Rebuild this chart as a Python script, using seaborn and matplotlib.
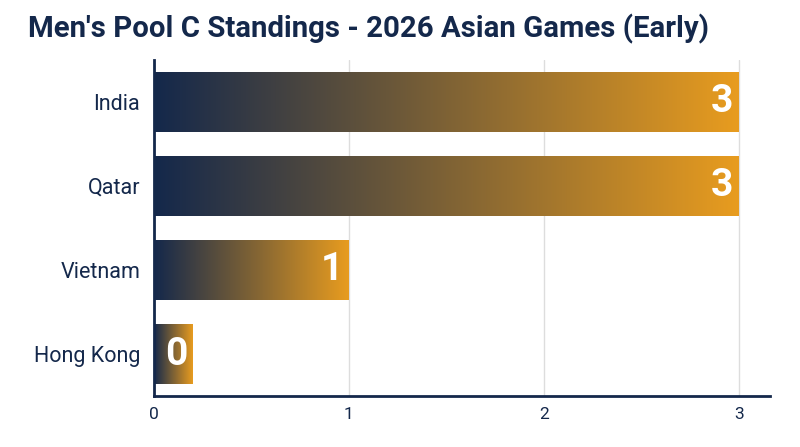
import matplotlib
matplotlib.use("Agg")
import matplotlib.pyplot as plt
from matplotlib.colors import LinearSegmentedColormap
import seaborn as sns
import numpy as np
import pandas as pd

teams = ["India", "Qatar", "Vietnam", "Hong Kong"]
points = [3, 3, 1, 0]
min_bar = 0.2  # zero bars still shown as a small stub

NAVY = "#14284b"
ORANGE = "#e89c1f"

sns.set_theme(style="white")
plt.rcParams["font.family"] = ["Roboto", "DejaVu Sans"]

df = pd.DataFrame({"team": teams, "points": points})
df["shown"] = df["points"].clip(lower=min_bar)

fig = plt.figure(figsize=(8, 4.47), dpi=100)
ax = fig.add_axes([0.1925, 0.114, 0.77, 0.752])

sns.barplot(data=df, x="shown", y="team", orient="h", width=0.72,
            color=ORANGE, ax=ax)

cmap = LinearSegmentedColormap.from_list("navy_orange", [NAVY, ORANGE])
grad = np.linspace(0, 1, 256).reshape(1, -1)
for patch, val in zip(ax.patches, df["points"]):
    x0, y0 = patch.get_x(), patch.get_y()
    w, h = patch.get_width(), patch.get_height()
    img = ax.imshow(grad, cmap=cmap, aspect="auto",
                    extent=(x0, x0 + w, y0 + h, y0), zorder=2)
    img.set_clip_path(patch)
    patch.set_facecolor("none")
    patch.set_edgecolor("none")
    ax.text(x0 + w - 0.03, y0 + h / 2, str(val), color="white",
            fontsize=28, fontweight="bold", ha="right", va="center",
            zorder=3)

ax.set_xlim(0, 3.16)
ax.set_ylim(3.5, -0.5)
ax.set_xticks([0, 1, 2, 3])
ax.set_xlabel("")
ax.set_ylabel("")
ax.xaxis.grid(True, color="#dddddd", linewidth=1)
ax.set_axisbelow(True)
ax.tick_params(axis="both", length=0, labelcolor=NAVY)
ax.tick_params(axis="y", pad=10, labelsize=15.5)
ax.tick_params(axis="x", pad=8, labelsize=12.5)

for side in ["top", "right"]:
    ax.spines[side].set_visible(False)
for side in ["left", "bottom"]:
    ax.spines[side].set_color(NAVY)
    ax.spines[side].set_linewidth(2)

fig.text(0.035, 0.935, "Men's Pool C Standings - 2026 Asian Games (Early)",
         fontsize=21.2, fontweight="bold", color=NAVY, ha="left", va="center")

fig.savefig("out.png", dpi=100)
